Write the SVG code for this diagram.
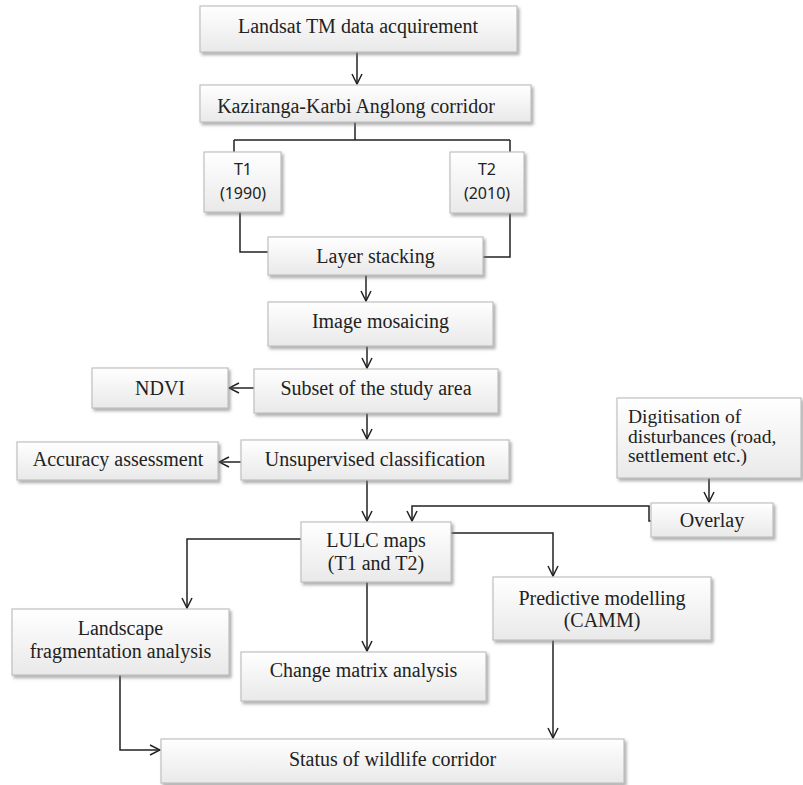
<svg xmlns="http://www.w3.org/2000/svg" width="803" height="785" viewBox="0 0 803 785">
<defs>
<linearGradient id="g" x1="0" y1="0" x2="0" y2="1">
<stop offset="0" stop-color="#ffffff"/>
<stop offset="1" stop-color="#e9e9e9"/>
</linearGradient>
<filter id="sh" x="-10%" y="-10%" width="130%" height="140%">
<feDropShadow dx="2" dy="2.5" stdDeviation="1.5" flood-color="#777" flood-opacity="0.6"/>
</filter>
<marker id="ar" markerUnits="userSpaceOnUse" viewBox="0 0 12 12" refX="11" refY="6" markerWidth="12" markerHeight="12" orient="auto">
<path d="M1,1 L11,6 L1,11" fill="none" stroke="#222" stroke-width="1.5"/>
</marker>
<style>
.box{fill:url(#g);stroke:#c0c0c0;stroke-width:1.2;filter:url(#sh)}
.t{font-family:"Liberation Serif","Times New Roman",serif;font-size:20px;fill:#222;text-anchor:middle}
.tl{font-family:"Liberation Serif","Times New Roman",serif;font-size:19.5px;fill:#222}
.s{font-family:"Noto Sans","Open Sans",sans-serif;font-size:16px;fill:#222;text-anchor:middle}
.c{fill:none;stroke:#222;stroke-width:1.5}
.a{fill:none;stroke:#222;stroke-width:1.5;marker-end:url(#ar)}
</style>
</defs>
<rect width="803" height="785" fill="#fff"/>

<g id="connectors">
<path class="a" d="M357,52 V84"/>
<path class="c" d="M355,122 V140 M234,140 H510 M234,140 V152 M510,140 V152"/>
<path class="c" d="M240,212 V252 H268"/>
<path class="c" d="M510,213 V257 H483"/>
<path class="a" d="M366,275 V301"/>
<path class="a" d="M367,346 V368"/>
<path class="a" d="M254,388 H229"/>
<path class="a" d="M367,413 V439"/>
<path class="a" d="M241,462 H219"/>
<path class="a" d="M367,480 V521"/>
<path class="a" d="M709,478 V502"/>
<path class="a" d="M651,521 H649 V506 H412 V521"/>
<path class="a" d="M301,539 H187 V608"/>
<path class="a" d="M451,533 H553 V576"/>
<path class="a" d="M367,582 V651"/>
<path class="a" d="M120,675 V750 H160"/>
<path class="a" d="M553,640 V738"/>
</g>

<g id="landsat"><rect class="box" x="200" y="6" width="317" height="46"/><text class="t" x="358" y="33">Landsat TM data acquirement</text></g>
<g id="corridor"><rect class="box" x="200" y="85" width="331" height="37"/><text class="t" x="356" y="113">Kaziranga-Karbi Anglong corridor</text></g>
<g id="t1"><rect class="box" x="204" y="152" width="77" height="60"/><text class="s" x="243" y="175">T1</text><text class="s" x="243" y="199">(1990)</text></g>
<g id="t2"><rect class="box" x="450" y="152" width="74" height="61"/><text class="s" x="487" y="175">T2</text><text class="s" x="487" y="199">(2010)</text></g>
<g id="layer"><rect class="box" x="268" y="237" width="215" height="38"/><text class="t" x="375.5" y="263">Layer stacking</text></g>
<g id="mosaic"><rect class="box" x="268" y="302" width="225" height="44"/><text class="t" x="380.5" y="328">Image mosaicing</text></g>
<g id="subset"><rect class="box" x="254" y="369" width="244" height="44"/><text class="t" x="376" y="395">Subset of the study area</text></g>
<g id="ndvi"><rect class="box" x="92" y="368" width="136" height="40"/><text class="t" x="160" y="395">NDVI</text></g>
<g id="unsup"><rect class="box" x="241" y="440" width="268" height="40"/><text class="t" x="375" y="466">Unsupervised classification</text></g>
<g id="accuracy"><rect class="box" x="17" y="442" width="201" height="38"/><text class="t" x="118" y="466">Accuracy assessment</text></g>
<g id="digitisation"><rect class="box" x="617" y="398" width="184" height="80"/><text class="tl" x="628" y="423">Digitisation of</text><text class="tl" x="628" y="443">disturbances (road,</text><text class="tl" x="628" y="462">settlement etc.)</text></g>
<g id="overlay"><rect class="box" x="651" y="503" width="122" height="34"/><text class="t" x="712" y="527">Overlay</text></g>
<g id="lulc"><rect class="box" x="301" y="522" width="150" height="60"/><text class="t" x="376" y="547">LULC maps</text><text class="t" x="376" y="570">(T1 and T2)</text></g>
<g id="landscape"><rect class="box" x="12" y="609" width="217" height="66"/><text class="t" x="120.5" y="635">Landscape</text><text class="t" x="120.5" y="658">fragmentation analysis</text></g>
<g id="predictive"><rect class="box" x="493" y="577" width="218" height="63"/><text class="t" x="602" y="605">Predictive modelling</text><text class="t" x="602" y="627">(CAMM)</text></g>
<g id="change"><rect class="box" x="241" y="652" width="245" height="49"/><text class="t" x="363.5" y="677">Change matrix analysis</text></g>
<g id="status"><rect class="box" x="161" y="739" width="463" height="44"/><text class="t" x="392.5" y="766">Status of wildlife corridor</text></g>
</svg>
